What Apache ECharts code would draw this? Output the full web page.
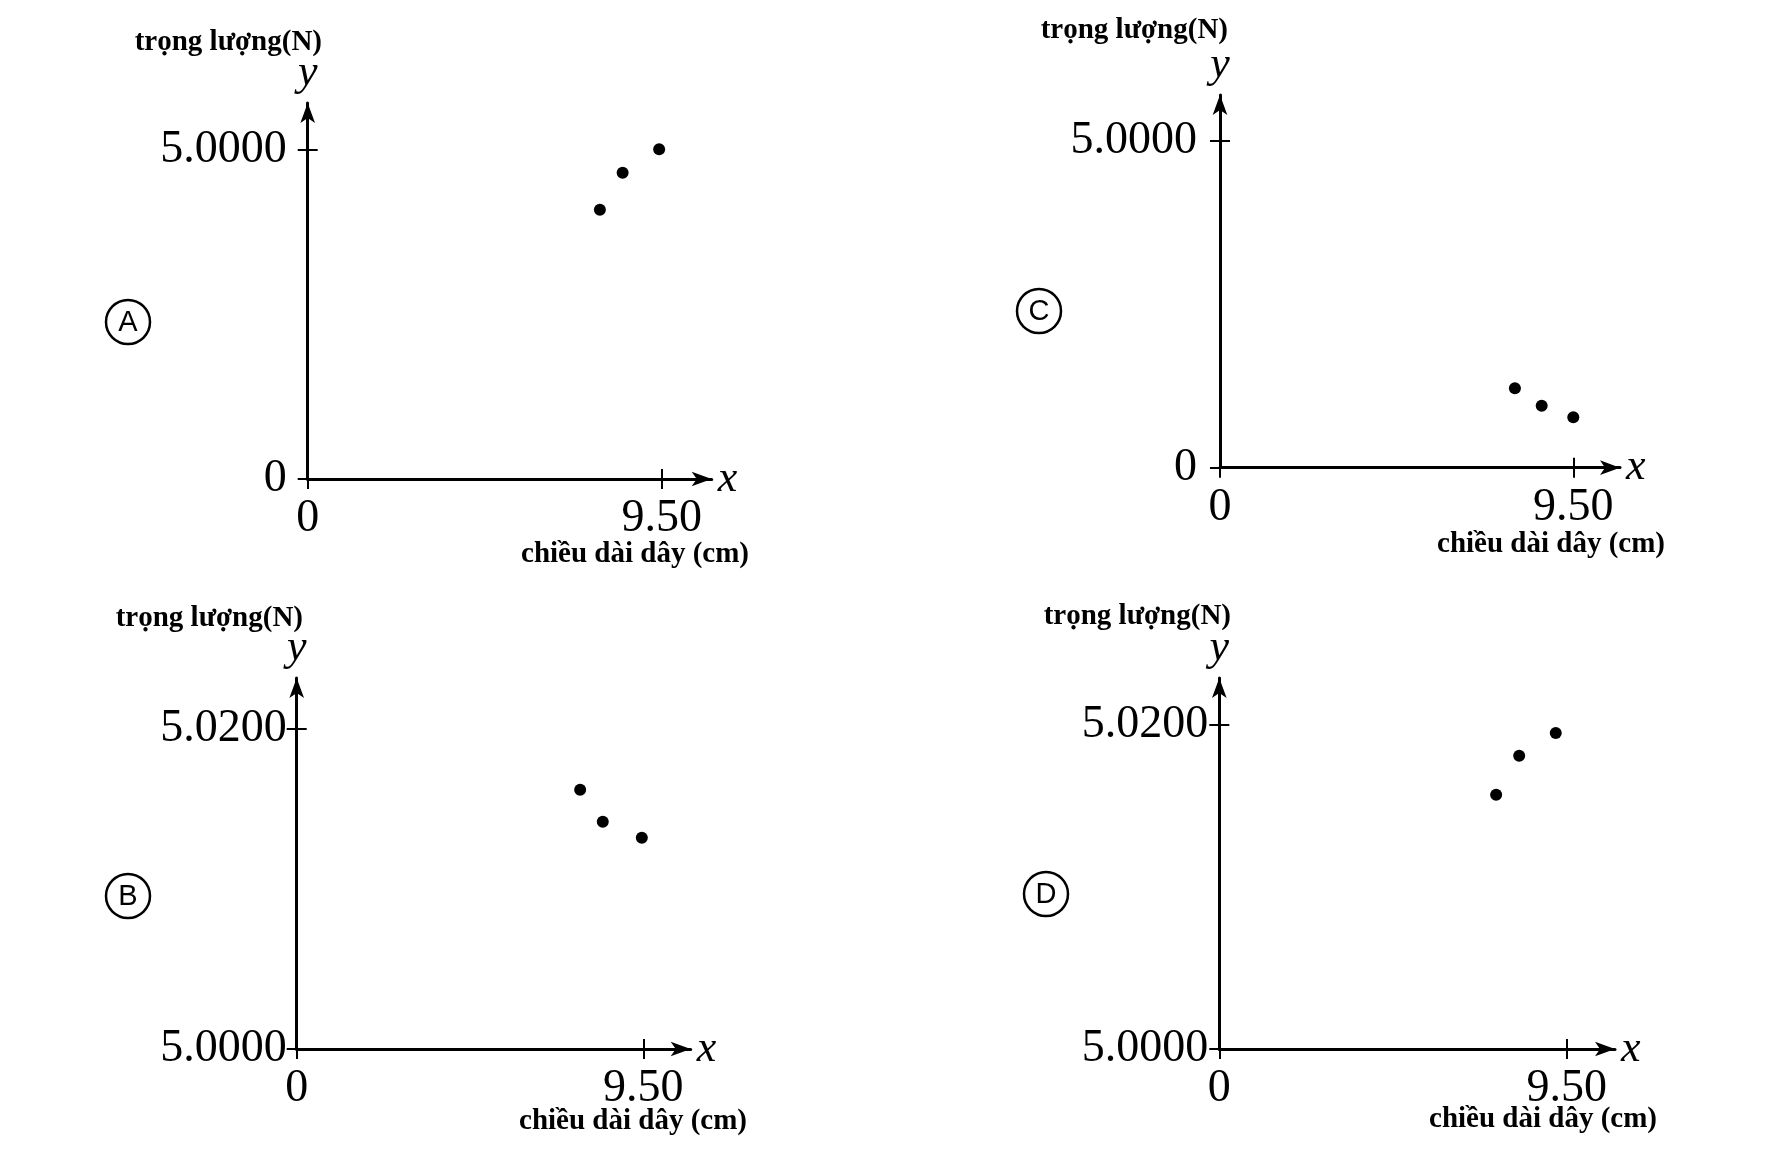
<!DOCTYPE html>
<html>
<head>
<meta charset="utf-8">
<script src="https://cdn.jsdelivr.net/npm/echarts@6/dist/echarts.min.js"></script>
<style>
html,body{margin:0;padding:0;background:#fff;}
#chart{width:1774px;height:1174px;}
</style>
</head>
<body>
<div id="chart"></div>
<script>
// ---- data ----
const panelLetters = ['A', 'B', 'C', 'D'];
const yAxisTitle = 'trọng lượng(N)';
const xAxisTitle = 'chiều dài dây (cm)';
const xTickValues = [0, 9.5];
const xTickLabels = ['0', '9.50'];
const yTickValuesAC = [0, 5];
const yTickLabelsAC = ['0', '5.0000'];
const yTickValuesBD = [5.0, 5.02];
const yTickLabelsBD = ['5.0000', '5.0200'];

const seriesA_x = [7.84, 8.45, 9.43];
const seriesA_y = [4.09, 4.655, 5.01];
const seriesB_x = [7.77, 8.39, 9.46];
const seriesB_y = [5.0162, 5.0142, 5.0132];
const seriesC_x = [7.93, 8.65, 9.50];
const seriesC_y = [1.215, 0.949, 0.771];
const seriesD_x = [7.57, 8.20, 9.20];
const seriesD_y = [5.0157, 5.0181, 5.0195];

// ---- layout ----
const panels = [
  { letter: panelLetters[0], xs: seriesA_x, ys: seriesA_y, yt: yTickValuesAC, yl: yTickLabelsAC,
    grid: { left: 307.7, top: 103, width: 404, height: 376 }, xMax: 10.84, yMin: 0, yMax: 5.714,
    yMargin: 21, circle: [128, 322], title: [322, 43], xname: [749, 555] },
  { letter: panelLetters[1], xs: seriesB_x, ys: seriesB_y, yt: yTickValuesBD, yl: yTickLabelsBD,
    grid: { left: 296.7, top: 678, width: 394, height: 371 }, xMax: 10.80, yMin: 5.0, yMax: 5.02319,
    yMargin: 10, circle: [128, 896], title: [303, 619], xname: [747, 1122] },
  { letter: panelLetters[2], xs: seriesC_x, ys: seriesC_y, yt: yTickValuesAC, yl: yTickLabelsAC,
    grid: { left: 1220, top: 95, width: 400, height: 372.7 }, xMax: 10.756, yMin: 0, yMax: 5.704,
    yMargin: 23, circle: [1039, 311], title: [1228, 31], xname: [1665, 545] },
  { letter: panelLetters[3], xs: seriesD_x, ys: seriesD_y, yt: yTickValuesBD, yl: yTickLabelsBD,
    grid: { left: 1219.3, top: 678, width: 395.7, height: 371 }, xMax: 10.82, yMin: 5.0, yMax: 5.0229,
    yMargin: 11, circle: [1046, 894], title: [1231, 617], xname: [1657, 1120] }
];

const SERIF = '"Liberation Serif", "Times New Roman", serif';
const labelStyle = { color: '#000', fontFamily: SERIF, fontSize: 46 };
const axisNameStyle = { color: '#000', fontFamily: SERIF, fontSize: 44, fontStyle: 'italic' };

const grids = [], xAxes = [], yAxes = [], series = [], graphics = [];

panels.forEach((p, i) => {
  grids.push(Object.assign({ containLabel: false }, p.grid));
  const xFmt = v => { const k = xTickValues.indexOf(v); return k >= 0 ? xTickLabels[k] : ''; };
  const yFmt = v => { const k = p.yt.findIndex(t => Math.abs(t - v) < 1e-9); return k >= 0 ? p.yl[k] : ''; };
  // main x axis (line, outward ticks, labels)
  xAxes.push({
    gridIndex: i, type: 'value', position: 'bottom', min: 0, max: p.xMax,
    name: 'x', nameLocation: 'end', nameGap: 6, nameTextStyle: axisNameStyle,
    axisLine: { show: true, onZero: false, symbol: ['none', 'arrow'], symbolSize: [11, 20],
      lineStyle: { color: '#000', width: 3 } },
    axisTick: { show: true, inside: false, length: 10, customValues: xTickValues, lineStyle: { color: '#000', width: 2 } },
    axisLabel: { show: true, margin: 17, customValues: xTickValues, formatter: xFmt, ...labelStyle },
    splitLine: { show: false }
  });
  // inward ticks
  xAxes.push({
    gridIndex: i, type: 'value', position: 'bottom', min: 0, max: p.xMax,
    axisLine: { show: false, onZero: false },
    axisTick: { show: true, inside: true, length: 10, customValues: xTickValues, lineStyle: { color: '#000', width: 2 } },
    axisLabel: { show: false }, splitLine: { show: false }
  });
  yAxes.push({
    gridIndex: i, type: 'value', position: 'left', min: p.yMin, max: p.yMax,
    name: 'y', nameLocation: 'end', nameGap: 8, nameTextStyle: axisNameStyle,
    axisLine: { show: true, onZero: false, symbol: ['none', 'arrow'], symbolSize: [11, 20],
      lineStyle: { color: '#000', width: 3 } },
    axisTick: { show: true, inside: false, length: 10, customValues: p.yt, lineStyle: { color: '#000', width: 2 } },
    axisLabel: { show: true, margin: p.yMargin, customValues: p.yt, formatter: yFmt, ...labelStyle },
    splitLine: { show: false }
  });
  yAxes.push({
    gridIndex: i, type: 'value', position: 'left', min: p.yMin, max: p.yMax,
    axisLine: { show: false, onZero: false },
    axisTick: { show: true, inside: true, length: 10, customValues: p.yt, lineStyle: { color: '#000', width: 2 } },
    axisLabel: { show: false }, splitLine: { show: false }
  });
  series.push({
    type: 'scatter', xAxisIndex: 2 * i, yAxisIndex: 2 * i,
    data: p.xs.map((x, k) => [x, p.ys[k]]),
    symbol: 'circle', symbolSize: 12, itemStyle: { color: '#000', opacity: 1 },
    silent: true, z: 5
  });
  graphics.push({
    type: 'text', x: p.title[0], y: p.title[1],
    style: { text: yAxisTitle, align: 'right', verticalAlign: 'middle', fill: '#000',
      font: 'bold 29px ' + SERIF }
  });
  graphics.push({
    type: 'text', x: p.xname[0], y: p.xname[1],
    style: { text: xAxisTitle, align: 'right', verticalAlign: 'middle', fill: '#000',
      font: 'bold 29px ' + SERIF }
  });
  graphics.push({
    type: 'circle', shape: { cx: p.circle[0], cy: p.circle[1], r: 22 },
    style: { fill: 'none', stroke: '#000', lineWidth: 2.5 }
  });
  graphics.push({
    type: 'text', x: p.circle[0], y: p.circle[1] + 1,
    style: { text: p.letter, align: 'center', verticalAlign: 'middle', fill: '#000',
      font: '29px "Liberation Sans", Arial, sans-serif' }
  });
});

const chart = echarts.init(document.getElementById('chart'), null, { renderer: 'canvas' });
chart.setOption({
  backgroundColor: '#ffffff',
  animation: false,
  grid: grids,
  xAxis: xAxes,
  yAxis: yAxes,
  series: series,
  graphic: graphics
});
</script>
</body>
</html>
